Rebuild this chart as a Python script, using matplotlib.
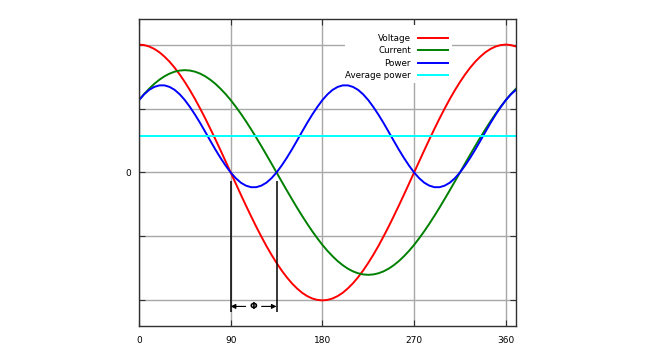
import matplotlib
matplotlib.use("Agg")
import matplotlib.pyplot as plt
from matplotlib.patches import Rectangle

# angle in degrees, values every 5 degrees
angle = list(range(0, 375, 5))
voltage = [1.000, 0.996, 0.985, 0.966, 0.940, 0.906, 0.866, 0.819, 0.766, 0.707,
           0.643, 0.574, 0.500, 0.423, 0.342, 0.259, 0.174, 0.087, 0.000,
           -0.087, -0.174, -0.259, -0.342, -0.423, -0.500, -0.574, -0.643, -0.707,
           -0.766, -0.819, -0.866, -0.906, -0.940, -0.966, -0.985, -0.996, -1.000,
           -0.996, -0.985, -0.966, -0.940, -0.906, -0.866, -0.819, -0.766, -0.707,
           -0.643, -0.574, -0.500, -0.423, -0.342, -0.259, -0.174, -0.087, 0.000,
           0.087, 0.174, 0.259, 0.342, 0.423, 0.500, 0.574, 0.643, 0.707,
           0.766, 0.819, 0.866, 0.906, 0.940, 0.966, 0.985, 0.996, 1.000,
           0.996, 0.985]
current = [0.566, 0.613, 0.655, 0.693, 0.725, 0.752, 0.773, 0.788, 0.797, 0.800,
           0.797, 0.788, 0.773, 0.752, 0.725, 0.693, 0.655, 0.613, 0.566,
           0.514, 0.459, 0.400, 0.338, 0.274, 0.207, 0.139, 0.070, 0.000,
           -0.070, -0.139, -0.207, -0.274, -0.338, -0.400, -0.459, -0.514, -0.566,
           -0.613, -0.655, -0.693, -0.725, -0.752, -0.773, -0.788, -0.797, -0.800,
           -0.797, -0.788, -0.773, -0.752, -0.725, -0.693, -0.655, -0.613, -0.566,
           -0.514, -0.459, -0.400, -0.338, -0.274, -0.207, -0.139, -0.070, 0.000,
           0.070, 0.139, 0.207, 0.274, 0.338, 0.400, 0.459, 0.514, 0.566,
           0.613, 0.655]
power = [0.566, 0.611, 0.646, 0.669, 0.681, 0.681, 0.669, 0.646, 0.611, 0.566,
         0.512, 0.452, 0.387, 0.318, 0.248, 0.179, 0.114, 0.054, 0.000,
         -0.045, -0.080, -0.103, -0.115, -0.115, -0.103, -0.080, -0.045, 0.000,
         0.054, 0.114, 0.179, 0.248, 0.318, 0.387, 0.452, 0.512, 0.566,
         0.611, 0.646, 0.669, 0.681, 0.681, 0.669, 0.646, 0.611, 0.566,
         0.512, 0.452, 0.387, 0.318, 0.248, 0.179, 0.114, 0.054, 0.000,
         -0.045, -0.080, -0.103, -0.115, -0.115, -0.103, -0.080, -0.045, 0.000,
         0.054, 0.114, 0.179, 0.248, 0.318, 0.387, 0.452, 0.512, 0.566,
         0.611, 0.646]
average_power = 0.283

phase_start = 90
phase_end = 135

xticks = [0, 90, 180, 270, 360]
yticks = [-1, -0.5, 0, 0.5, 1]
ytick_labels = ["", "", "0", "", ""]

fig = plt.figure(figsize=(6.48, 3.61), dpi=100)
ax = fig.add_axes([0.2145, 0.097, 0.5818, 0.8504])

ax.plot(angle, voltage, color="#ff0000", lw=1.4, label="Voltage")
ax.plot(angle, current, color="#008000", lw=1.4, label="Current")
ax.plot(angle, power, color="#0000ff", lw=1.4, label="Power")
ax.axhline(average_power, color="#00ffff", lw=1.4, label="Average power")

# phase shift markers
ax.vlines([phase_start, phase_end], -1.094, -0.07, color="black", lw=1.1)
arrow_y = -1.047
mid = (phase_start + phase_end) / 2
for end in (phase_start, phase_end):
    ax.annotate("", xy=(end, arrow_y), xytext=(mid + (end - mid) * 0.35, arrow_y),
                arrowprops=dict(arrowstyle="-|>", color="black", lw=0.8,
                                mutation_scale=7, shrinkA=0, shrinkB=0))
ax.text(mid, arrow_y, "Φ", ha="center", va="center", fontsize=6.5, fontweight="bold")

ax.set_xlim(0, 370)
ax.set_ylim(-1.2, 1.2)
ax.set_xticks(xticks)
ax.set_yticks(yticks)
ax.set_yticklabels(ytick_labels)
ax.grid(True, color="#a8a8a8", lw=1.0)
ax.set_axisbelow(True)
ax.tick_params(direction="in", length=4.5, width=0.8, color="#303030",
               top=True, right=True, labelsize=6.5, pad=7.5)
ax.tick_params(axis="y", pad=6)
for s in ax.spines.values():
    s.set_color("#303030")
    s.set_linewidth(1.0)

# white block behind the key, like gnuplot
ax.add_patch(Rectangle((0.546, 0.7915), 0.284, 0.189, transform=ax.transAxes,
                       facecolor="white", edgecolor="none", zorder=1))
leg = ax.legend(loc="upper right", bbox_to_anchor=(0.8196, 0.952), fontsize=6.3,
                markerfirst=False, frameon=False, handlelength=3.43,
                handletextpad=0.8, labelspacing=0.4, borderpad=0, borderaxespad=0)
for col in leg._legend_handle_box.get_children():
    col.align = "right"

fig.savefig("out.png", dpi=100)
